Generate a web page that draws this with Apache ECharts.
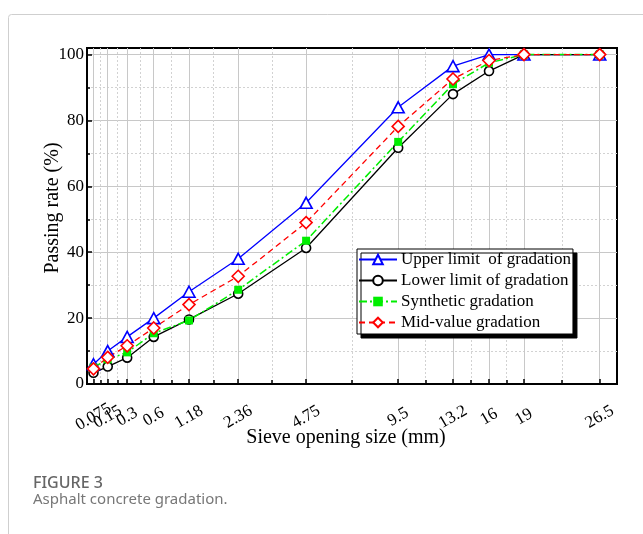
<!DOCTYPE html>
<html>
<head>
<meta charset="utf-8">
<title>Asphalt concrete gradation</title>
<script src="https://cdn.jsdelivr.net/npm/echarts@6/dist/echarts.min.js"></script>
<style>
    html, body { margin: 0; padding: 0; background: #fff; }
    #chart { width: 643px; height: 534px; }
</style>
</head>
<body>
<div id="chart"></div>
<script>
    // 筛孔尺寸 (mm)
    var sieveSizes = [0.075, 0.15, 0.3, 0.6, 1.18, 2.36, 4.75, 9.5, 13.2, 16, 19, 26.5];
    var sieveLabels = ['0.075', '0.15', '0.3', '0.6', '1.18', '2.36', '4.75', '9.5', '13.2', '16', '19', '26.5'];
    // 通过率 (%)
    var upperLimit = [6, 10, 14.3, 20, 28, 38, 55, 84, 96.5, 100, 100, 100];
    var lowerLimit = [3.4, 5.3, 8, 14.3, 19.6, 27.4, 41.3, 71.7, 88, 95, 100, 100];
    var synthetic = [5, 7.5, 9.6, 15.4, 19.3, 28.6, 43.5, 73.5, 91, 97.5, 100, 100];
    var midValue = [4.6, 8.1, 11.6, 17, 24.1, 32.7, 49, 78.2, 92.6, 98.2, 100, 100];
    // 纵轴刻度
    var yMajorTicks = [0, 20, 40, 60, 80, 100];
    var yMinorTicks = [10, 30, 50, 70, 90];

    // 横轴是 0.45 次方坐标 (级配曲线)
    var POW = 0.45;
    function px(d) {
        return Math.pow(d, POW);
    }
    var xMin = px(0.05);
    var xMax = px(28.4);
    var xMajor = sieveSizes.map(px);
    // 次刻度取相邻主刻度中点
    var xMinor = [];
    for (var i = 0; i < xMajor.length - 1; i++) {
        xMinor.push((xMajor[i] + xMajor[i + 1]) / 2);
    }
    // 标签分两组放在两根轴上, 避免相邻标签被自动隐藏
    var xLabelsEven = xMajor.filter(function (v, k) { return k % 2 === 0; });
    var xLabelsOdd = xMajor.filter(function (v, k) { return k % 2 === 1; });

    function pairs(values) {
        return sieveSizes.map(function (d, i) {
            return [px(d), values[i]];
        });
    }

    var serif = '"Liberation Serif", "Times New Roman", serif';
    var majorLine = { show: true, lineStyle: { color: '#c8c8c8', width: 1, type: 'solid' } };
    var minorLine = { show: true, lineStyle: { color: '#d2d2d2', width: 1, type: [2, 2] } };

    function xLabel(values) {
        return {
            show: true,
            customValues: values,
            rotate: 30,
            margin: 33,
            align: 'center',
            verticalAlign: 'middle',
            hideOverlap: false,
            fontFamily: serif,
            fontSize: 17,
            color: '#000',
            formatter: function (v) {
                for (var k = 0; k < xMajor.length; k++) {
                    if (Math.abs(xMajor[k] - v) < 1e-6) return sieveLabels[k];
                }
                return '';
            }
        };
    }

    var mychart = echarts.init(document.getElementById('chart'), null, { renderer: 'canvas' });
    var option = {
        animation: false,
        backgroundColor: '#fff',
        grid: {
            left: 87,
            top: 48,
            right: 26,
            bottom: 150,
            show: true,
            borderColor: '#000',
            borderWidth: 2,
            backgroundColor: 'transparent'
        },
        xAxis: [{
            type: 'value',
            min: xMin,
            max: xMax,
            position: 'bottom',
            name: 'Sieve opening size (mm)',
            nameLocation: 'middle',
            nameGap: 44,
            nameMoveOverlap: false,
            nameTextStyle: { fontFamily: serif, fontSize: 20, color: '#000', padding: [0, 12, 0, 0] },
            axisLine: { show: true, onZero: false, lineStyle: { color: '#000', width: 2 } },
            axisTick: { show: true, inside: true, length: 5, customValues: xMajor, lineStyle: { color: '#000', width: 1.5 } },
            axisLabel: xLabel(xLabelsEven),
            splitLine: majorLine
        }, {
            type: 'value',
            min: xMin,
            max: xMax,
            position: 'bottom',
            axisLine: { show: false },
            axisTick: { show: true, inside: true, length: 4, customValues: xMinor, lineStyle: { color: '#000', width: 1.5 } },
            axisLabel: xLabel(xLabelsOdd),
            splitLine: minorLine
        }],
        yAxis: [{
            type: 'value',
            min: 0,
            max: 102,
            position: 'left',
            name: 'Passing rate (%)',
            nameLocation: 'middle',
            nameGap: 24,
            nameMoveOverlap: false,
            nameTextStyle: { fontFamily: serif, fontSize: 20, color: '#000', padding: [0, 0, 0, 16] },
            axisLine: { show: true, onZero: false, lineStyle: { color: '#000', width: 2 } },
            axisTick: { show: true, inside: true, length: 5, customValues: yMajorTicks, lineStyle: { color: '#000', width: 1.5 } },
            axisLabel: { show: true, customValues: yMajorTicks, margin: 3, fontFamily: serif, fontSize: 17, color: '#000' },
            splitLine: majorLine
        }, {
            type: 'value',
            min: 0,
            max: 102,
            position: 'left',
            axisLine: { show: false },
            axisTick: { show: true, inside: true, length: 3, customValues: yMinorTicks, lineStyle: { color: '#000', width: 1.5 } },
            axisLabel: { show: false },
            splitLine: minorLine
        }],
        legend: {
            orient: 'vertical',
            left: 357,
            top: 249,
            itemWidth: 38,
            itemHeight: 12,
            itemGap: 4,
            padding: [2, 2, 3, 1],
            backgroundColor: '#fff',
            borderColor: '#000',
            borderWidth: 1,
            shadowColor: '#000',
            shadowBlur: 0,
            shadowOffsetX: 4,
            shadowOffsetY: 4,
            textStyle: { fontFamily: serif, fontSize: 17, color: '#000', padding: [0, 0, 0, -1] },
            data: ['Upper limit  of gradation', 'Lower limit of gradation', 'Synthetic gradation', 'Mid-value gradation']
        },
        series: [{
            name: 'Upper limit  of gradation',
            type: 'line',
            xAxisIndex: 0,
            yAxisIndex: 0,
            data: pairs(upperLimit),
            symbol: 'triangle',
            symbolSize: [12, 11],
            lineStyle: { color: '#0000ff', width: 1.3, type: 'solid' },
            itemStyle: { color: '#fff', borderColor: '#0000ff', borderWidth: 1.6 }
        }, {
            name: 'Lower limit of gradation',
            type: 'line',
            xAxisIndex: 0,
            yAxisIndex: 0,
            data: pairs(lowerLimit),
            symbol: 'circle',
            symbolSize: 9,
            lineStyle: { color: '#000', width: 1.3, type: 'solid' },
            itemStyle: { color: '#fff', borderColor: '#000', borderWidth: 1.6 }
        }, {
            name: 'Synthetic gradation',
            type: 'line',
            xAxisIndex: 0,
            yAxisIndex: 0,
            data: pairs(synthetic),
            symbol: 'rect',
            symbolSize: 8,
            lineStyle: { color: '#00ee00', width: 1.5, type: [8, 3, 2, 3] },
            itemStyle: { color: '#00ee00', borderColor: '#00ee00', borderWidth: 0 }
        }, {
            name: 'Mid-value gradation',
            type: 'line',
            xAxisIndex: 0,
            yAxisIndex: 0,
            data: pairs(midValue),
            symbol: 'diamond',
            symbolSize: [12, 12],
            lineStyle: { color: '#ff0000', width: 1.3, type: [6, 4] },
            itemStyle: { color: '#fff', borderColor: '#ff0000', borderWidth: 1.6 }
        }],
        graphic: [{
            type: 'rect',
            silent: true,
            z: -10,
            shape: { x: 8.5, y: 14.5, width: 700, height: 600, r: 3 },
            style: { fill: 'none', stroke: '#cfcfcf', lineWidth: 1 }
        }, {
            type: 'text',
            left: 33,
            top: 475,
            style: { text: 'FIGURE 3', fontFamily: '"Noto Sans", sans-serif', fontSize: 16, fontWeight: 500, fill: '#666' }
        }, {
            type: 'text',
            left: 33,
            top: 492,
            style: { text: 'Asphalt concrete gradation.', fontFamily: '"Noto Sans", sans-serif', fontSize: 15, fill: '#777' }
        }]
    };
    mychart.setOption(option);
</script>
</body>
</html>
